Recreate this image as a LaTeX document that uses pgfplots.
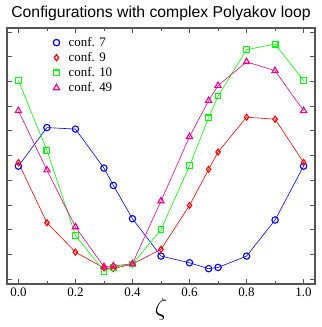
\documentclass[border=0pt]{standalone}
\usepackage{fontspec}
\setmainfont{Liberation Serif}
\newfontfamily\titlefont{Liberation Sans}
\usepackage{pgfplots}
\pgfplotsset{compat=1.18}

\definecolor{frame}{HTML}{555555}

\begin{document}
\begin{tikzpicture}[x=1bp,y=1bp]
\begin{axis}[
    scale only axis,
    width=308bp, height=256bp,
    xmin=-0.04, xmax=1.04,
    ymin=-0.2, ymax=10.16,
    xtick={0,0.2,...,1.0},
    minor xtick={0.1,0.3,...,0.9},
    ytick={0,1,...,10},
    yticklabels={},
    tick align=inside,
    major tick length=5bp,
    minor tick length=3bp,
    axis line style={frame, line width=1.2pt},
    every tick/.style={frame, line width=0.8pt},
    xticklabel style={font=\fontsize{13}{14}\selectfont},
    /pgf/number format/assume math mode=true,
    /pgf/number format/fixed, /pgf/number format/fixed zerofill,
    /pgf/number format/precision=1,
    xlabel={\fontsize{23}{23}\selectfont$\zeta$},
    xlabel style={yshift=5bp},
    title={\titlefont\fontsize{15.8}{17}\selectfont Configurations with complex Polyakov loop},
    title style={yshift=-2bp},
    legend style={at={(0.14,0.98)}, anchor=north west, draw=none, fill=none,
        font=\fontsize{13}{14.7}\selectfont, row sep=0.5bp, column sep=7bp},
    legend cell align=left,
    legend image code/.code={\draw[#1] plot coordinates {(0.1cm,0cm)};},
    legend image post style={line width=1.2pt, mark options={solid, line width=1.2pt}},
]
\addplot[blue, line width=0.6pt, mark=o, mark size=3.2bp, mark options={line width=1.1pt}] coordinates {
    (0,4.57) (0.1,6.13) (0.2,6.07) (0.3,4.49) (0.333,3.79) (0.4,2.44)
    (0.5,0.93) (0.6,0.66) (0.667,0.42) (0.7,0.47) (0.8,0.93) (0.9,2.39) (1.0,4.57)
};
\addlegendentry{conf. 7}
\addplot[red, line width=0.6pt, mark=diamond, mark size=3bp, mark options={line width=1.1pt}] coordinates {
    (0,4.71) (0.1,2.28) (0.2,1.09) (0.3,0.45) (0.333,0.42) (0.4,0.61)
    (0.5,1.20) (0.6,2.98) (0.667,4.44) (0.7,5.14) (0.8,6.55) (0.9,6.47) (1.0,4.72)
};
\addlegendentry{conf. 9}
\addplot[green, line width=0.6pt, mark=square, mark size=2.9bp, mark options={line width=1.1pt}] coordinates {
    (0,8.03) (0.1,5.21) (0.2,1.77) (0.3,0.32) (0.333,0.47) (0.4,0.61)
    (0.5,2.00) (0.6,4.59) (0.667,6.52) (0.7,7.41) (0.8,9.28) (0.9,9.51) (1.0,8.03)
};
\addlegendentry{conf. 10}
\addplot[magenta, line width=0.6pt, mark=triangle, mark size=3.6bp, mark options={line width=1.1pt}] coordinates {
    (0,6.81) (0.1,4.41) (0.2,2.11) (0.3,0.50) (0.333,0.53) (0.4,0.62)
    (0.5,3.16) (0.6,5.76) (0.667,7.22) (0.7,7.83) (0.8,8.79) (0.9,8.43) (1.0,6.81)
};
\addlegendentry{conf. 49}
\end{axis}
\path ([xshift=-7bp,yshift=-43bp]current axis.south west) rectangle ([xshift=7bp,yshift=28bp]current axis.north east);
\end{tikzpicture}
\end{document}
